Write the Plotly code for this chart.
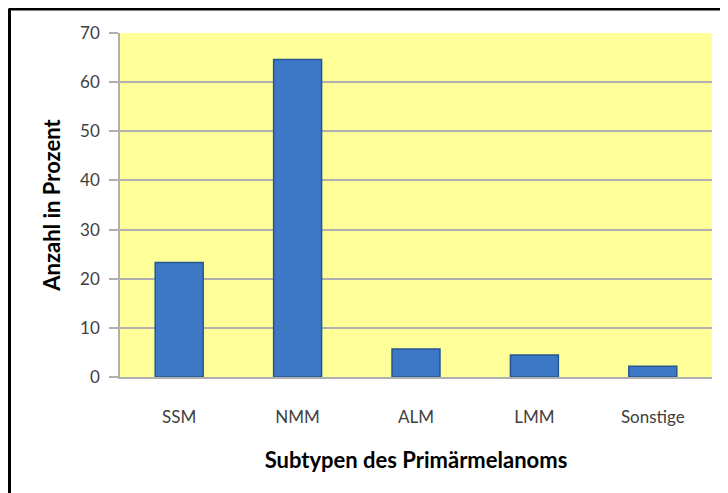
import plotly.graph_objects as go

subtypes = ["SSM", "NMM", "ALM", "LMM", "Sonstige"]
anteil = [23.3, 64.6, 5.7, 4.5, 2.2]
y_ticks = [0, 10, 20, 30, 40, 50, 60, 70]

fig = go.Figure()
fig.add_trace(go.Bar(
    x=subtypes, y=anteil, width=0.405,
    marker=dict(color="#3d78c6", line=dict(color="#27568f", width=1.5)),
))

# schwarzer Rahmen (links und oben)
fig.add_shape(type="line", xref="paper", yref="paper", x0=-0.1875, x1=-0.1875, y0=-0.4, y1=1.0712,
              line=dict(color="black", width=4))
fig.add_shape(type="line", xref="paper", yref="paper", x0=-0.1875, x1=1.1, y0=1.0712, y1=1.0712,
              line=dict(color="black", width=4))

fig.update_layout(
    width=728, height=493,
    margin=dict(l=112, r=24, t=25, b=124),
    paper_bgcolor="white", plot_bgcolor="#ffff99",
    font=dict(family="Lato, Noto Sans", color="#404040", size=17),
    showlegend=False, bargap=0.595,
    xaxis=dict(
        title=dict(text="<b>Subtypen des Primärmelanoms</b>", font=dict(size=22, color="black"), standoff=26),
        showline=True, linecolor="#b0b0b0", linewidth=1.5, ticks="", ticklabelstandoff=24,
    ),
    yaxis=dict(
        title=dict(text="<b>Anzahl in Prozent</b>", font=dict(size=22, color="black"), standoff=13),
        range=[0, 70], tickvals=y_ticks, showgrid=True, gridcolor="#b0b0b0", gridwidth=1.5,
        showline=True, linecolor="#b0b0b0", linewidth=1.5,
        ticks="outside", ticklen=9, tickcolor="#b0b0b0", tickwidth=1.5, ticklabelstandoff=6,
        zeroline=False,
    ),
)

fig.write_html("out.html")
